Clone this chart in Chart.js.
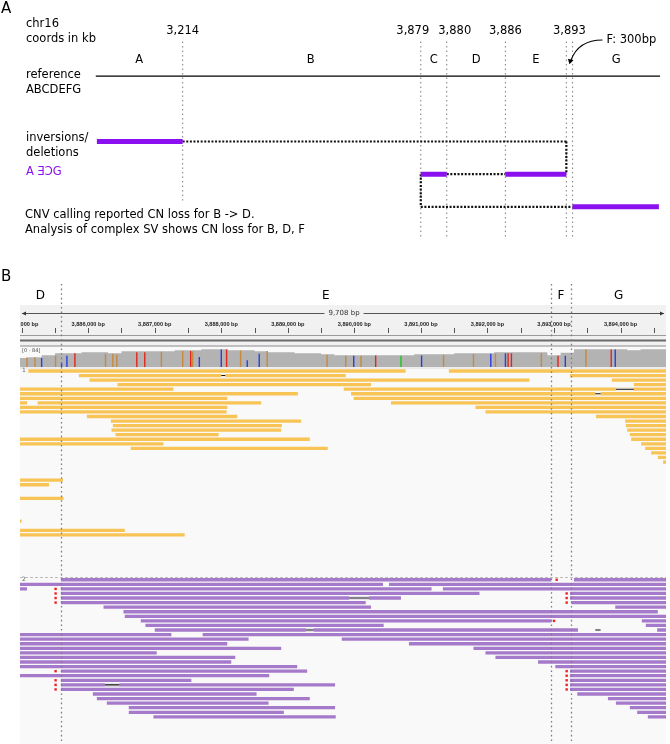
<!DOCTYPE html>
<html><head><meta charset="utf-8">
<script src="https://cdn.jsdelivr.net/npm/chart.js@4.4.1/dist/chart.umd.min.js"></script>
<style>html,body{margin:0;padding:0;background:#fff;}#wrap{position:relative;width:670px;height:744px;}</style>
</head><body><div id="wrap"><canvas id="c" width="670" height="744"></canvas></div>
<script>
// ===================== PANEL A DATA (schematic, not to scale) =====================
const segmentNames = ['A','B','C','D','E','F','G'];
const breakpointLabels = ['3,214','3,879','3,880','3,886','3,893'];
// schematic positions of breakpoints along the reference (0..100)
const breakpointPos = [15.4, 57.6, 62.2, 72.6, 83.4, 84.5];
const referenceSpan = [0, 100];
const referenceLevel = 1;
// derived (inversions/deletions) haplotype: [level, from, to]
const derivedSegments = [[3, 0.2, 15.4], [4, 57.6, 62.2], [4, 72.6, 83.4], [5, 84.5, 99.8]];
const derivedJoinsH = [[3, 15.4, 83.4], [4, 62.2, 72.6], [5, 57.6, 84.5]];
const derivedJoinsV = [[83.4, 3, 4], [57.6, 4, 5]];

// ===================== PANEL B DATA (IGV view, positions in kb) =====================
const viewStartKb = 3884.975, viewEndKb = 3894.683;
const rulerLabelKb = [3885, 3886, 3887, 3888, 3889, 3890, 3891, 3892, 3893, 3894];
const rulerTickKb = [3885, 3885.5, 3886, 3886.5, 3887, 3887.5, 3888, 3888.5, 3889, 3889.5, 3890, 3890.5,
                     3891, 3891.5, 3892, 3892.5, 3893, 3893.5, 3894, 3894.5];
const segBoundariesKb = [3885.59, 3892.95, 3893.26];
const segLabelsB = ['D', 'E', 'F', 'G'];
const coverageMax = 84;
const covStartKb = 3884.9, covBinKb = 0.2;
const coverage = [40,44,53,62,62,66,66,62,71,71, 71,71,75,75,80,80,75,75,71,66,
                  66,62,62,57,53,53,53,53,53,53, 57,57,57,62,62,62,66,66,66,66,
                  53,64,80,80,80,80,75,80,80];
// coverage mismatches: [kb, base, depth]
const coverageSnps = [
  [3885.08,'G',44],[3885.20,'G',44],[3885.30,'C',40],[3885.51,'G',50],[3885.60,'C',20],[3885.68,'C',50],[3885.80,'T',62],
  [3886.26,'G',60],[3886.37,'G',60],[3886.43,'G',55],[3886.73,'T',66],[3886.85,'T',66],[3887.10,'G',68],
  [3887.42,'G',72],[3887.54,'T',72],[3887.57,'G',70],[3887.67,'C',45],[3888.00,'C',78],[3888.08,'T',78],
  [3888.29,'G',74],[3888.39,'C',30],[3888.57,'C',60],[3888.69,'G',72],[3889.59,'G',55],
  [3889.87,'G',50],[3889.99,'C',50],[3890.10,'G',50],[3890.32,'T',52],[3890.70,'A',50],[3891.01,'C',52],
  [3891.34,'G',55],[3891.79,'G',58],[3892.05,'C',60],[3892.12,'G',60],[3892.27,'C',62],[3892.31,'T',62],[3892.36,'T',62],
  [3892.81,'G',62],[3893.06,'T',50],[3893.17,'C',50],[3893.48,'G',78],[3893.86,'T',78],[3893.92,'C',78]
];
const S = 3884.7, E = 3895.0; // reads running off the left / right edge of the view
// track 1 (yellow): [row, startKb, endKb]
const yellowReads = [
  [0,3885.10,3890.77],[0,3891.42,E],
  [1,3885.86,3889.87],[1,3893.24,E],
  [2,3886.02,3892.63],[2,3893.87,E],
  [3,3886.44,3890.25],[3,3894.20,E],
  [4,S,3887.28],[4,3889.84,E],
  [5,S,3889.15],[5,3889.95,E],
  [6,S,3888.09],[6,3889.99,E],
  [7,S,3885.08],[7,3885.24,3888.60],[7,3890.55,E],
  [8,S,3888.09],[8,3891.82,E],
  [9,S,3888.08],[9,3891.97,E],
  [10,3885.98,3888.24],[10,3893.63,E],
  [11,3886.34,3889.20],[11,3894.07,E],
  [12,3886.37,3888.91],[12,3894.08,E],
  [13,3886.35,3888.90],[13,3894.10,E],
  [14,3886.41,3887.96],[14,3894.14,E],
  [15,S,3889.33],[15,3894.16,E],
  [16,S,3887.13],[16,3894.31,E],
  [17,3886.64,3889.60],[17,3894.37,E],
  [18,3894.46,E],[19,3894.56,E],[20,3894.64,E],
  [24,S,3885.62],[25,S,3885.41],[28,S,3885.63],[33,S,3885.00],[35,S,3886.55],[36,S,3887.45]
];
// track 2 (purple): [row, startKb, endKb]
const purpleReads = [
  [0,3885.59,3892.96],[0,3893.30,E],
  [1,S,3890.43],[1,3890.52,E],
  [2,S,3885.08],[2,3885.59,3891.16],[2,3891.33,E],
  [3,3885.59,3891.88],[3,3893.24,E],
  [4,3885.59,3890.70],[4,3893.24,E],
  [5,3885.59,3890.17],[5,3893.26,E],
  [6,3886.23,3890.25],[6,3893.92,E],
  [7,3886.53,3894.56],
  [8,3886.55,E],
  [9,3886.79,3892.96],[9,3894.32,E],
  [10,3886.86,3890.44],[10,3894.38,E],
  [11,3887.00,3893.36],[11,3894.55,E],
  [12,S,3887.25],[12,3887.72,E],
  [13,S,3888.41],[13,3889.81,E],
  [14,S,3888.09],[14,3890.82,E],
  [15,S,3888.90],[15,3891.79,E],
  [16,S,3887.03],[16,3891.97,E],
  [17,S,3888.21],[17,3892.12,E],
  [18,S,3888.15],[18,3892.76,E],
  [19,S,3889.14],[19,3893.02,E],
  [20,3885.59,3889.29],[20,3893.24,E],
  [21,S,3888.72],[21,3893.24,E],
  [22,3885.59,3887.55],[22,3893.24,E],
  [23,3885.59,3889.71],[23,3893.24,E],
  [24,3885.59,3889.09],[24,3893.24,E],
  [25,3886.07,3888.53],[25,3893.35,E],
  [26,3886.13,3889.33],[26,3893.81,E],
  [27,3886.28,3888.71],[27,3893.93,E],
  [28,3886.61,3889.71],[28,3894.14,E],
  [29,3886.61,3888.94],[29,3894.25,E],
  [30,3886.98,3889.72],[30,3894.41,E]
];
// soft-clip markers on track 2: [row, kb]
const purpleClips = [[2,3885.51],[3,3885.51],[4,3885.51],[5,3885.51],[20,3885.51],[22,3885.51],[23,3885.51],[24,3885.51],
  [0,3893.04],[9,3893.00],[3,3893.19],[4,3893.19],[5,3893.19],[20,3893.19],[21,3893.19],[22,3893.19],[23,3893.19],[24,3893.19]];
// deletions inside reads: [track, row, fromKb, toKb]
const readDeletions = [[1,4,3893.93,3894.20],[1,5,3893.62,3893.70],[2,4,3889.92,3890.22],[2,23,3886.25,3886.47],
  [2,11,3889.27,3889.39],[2,11,3893.62,3893.70],[1,1,3888.0,3888.06]];

// ===================== LAYOUT / STYLE =====================
const CW = 670, CH = 744, PADL = 20, PADR = 2, AW = CW - PADL - PADR;
const FONT = 'DejaVu Sans';
const PURPLE_A = '#8b10ef', YELLOW = '#f7c455', PURPLE = '#a67aca';
const SNP_COLORS = {A:'#21c421', C:'#2b3ee6', G:'#c8893c', T:'#e3261d'};
function hScale(v0, p0, ppu){ const min = v0 - (p0 - PADL)/ppu; return {type:'linear', display:false, min, max:min + AW/ppu}; }
function vDown(v0, p0, ppu){ const min = v0 - p0/ppu; return {type:'linear', display:false, reverse:true, min, max:min + CH/ppu}; }
function vUp(v0, p0, ppu){ const max = v0 + p0/ppu; return {type:'linear', display:false, min:max - CH/ppu, max}; }
const pxPerKb = AW / (viewEndKb - viewStartKb);

const base = {type:'line', pointRadius:0, fill:false, tension:0, borderCapStyle:'butt', spanGaps:false};
const datasets = [];
// Panel A
datasets.push({...base, xAxisID:'xA', yAxisID:'yA', order:5, borderColor:'#000', borderWidth:1.3,
  data:[{x:referenceSpan[0],y:referenceLevel},{x:referenceSpan[1],y:referenceLevel}]});
datasets.push({...base, xAxisID:'xA', yAxisID:'yA', order:4, borderColor:PURPLE_A, borderWidth:5,
  data:derivedSegments.flatMap(([l,a,b])=>[{x:a,y:l},{x:b,y:l},{x:b,y:null}])});
datasets.push({...base, xAxisID:'xA', yAxisID:'yA', order:6, borderColor:'#111', borderWidth:2.2, borderDash:[2,1.6],
  data:derivedJoinsH.flatMap(([l,a,b])=>[{x:a,y:l},{x:b,y:l},{x:b,y:null}]).concat(
       derivedJoinsV.flatMap(([x,a,b])=>[{x,y:a},{x,y:b},{x,y:null}]))});
datasets.push({...base, xAxisID:'xA', yAxisID:'yA', order:9, borderColor:'#8a8a8a', borderWidth:1.1, borderDash:[1.5,3],
  data:breakpointPos.flatMap((p,i)=>[{x:p,y:-0.06},{x:p,y:i===0?4.85:6},{x:p,y:null}])});
// Panel B
const covData = coverage.map((v,i)=>({x:covStartKb + i*covBinKb, y:v}));
covData.push({x:covStartKb + coverage.length*covBinKb, y:coverage[coverage.length-1]});
datasets.push({...base, xAxisID:'xB', yAxisID:'yCov', order:20, data:covData, stepped:true, fill:'origin',
  backgroundColor:'#b3b3b3', borderWidth:0, clip:0});
Object.keys(SNP_COLORS).forEach(b=>{
  datasets.push({...base, xAxisID:'xB', yAxisID:'yCov', order:19, borderColor:SNP_COLORS[b], borderWidth:1.4, clip:0,
    data:coverageSnps.filter(s=>s[1]===b).flatMap(([k,,v])=>[{x:k,y:0},{x:k,y:v},{x:k,y:null}])});
});
const readsDs = (reads, yId, col) => ({...base, xAxisID:'xB', yAxisID:yId, order:18, borderColor:col, borderWidth:3.3, clip:0,
  data:reads.flatMap(([r,s,e])=>[{x:s,y:r},{x:e,y:r},{x:e,y:null}])});
datasets.push(readsDs(yellowReads,'yYel',YELLOW));
datasets.push(readsDs(purpleReads,'yPur',PURPLE));
[[1,'yYel'],[2,'yPur']].forEach(([t,yId])=>{
  const dl = readDeletions.filter(d=>d[0]===t);
  datasets.push({...base, xAxisID:'xB', yAxisID:yId, order:17, borderColor:'#111', borderWidth:1.1, clip:0,
    data:dl.flatMap(([,r,a,b])=>[{x:a,y:r},{x:b,y:r},{x:b,y:null}])});
  datasets.push({...base, xAxisID:'xB', yAxisID:yId, order:17.5, borderColor:'#f4f4f4', borderWidth:3.3, clip:0,
    data:dl.flatMap(([,r,a,b])=>[{x:a,y:r},{x:b,y:r},{x:b,y:null}])});
});
datasets.push({...base, xAxisID:'xB', yAxisID:'yPur', order:16, showLine:false, pointRadius:1.7, pointStyle:'rect',
  pointBackgroundColor:'#ee2222', pointBorderWidth:0, clip:0, data:purpleClips.map(([r,k])=>({x:k,y:r}))});

function fmtBp(kb){ return Math.round(kb*1000).toLocaleString('en-US') + ' bp'; }

const decor = {
  id:'decor',
  beforeDatasetsDraw(chart){
    const ctx = chart.ctx, xB = chart.scales.xB, yC = chart.scales.yCov;
    const L = xB.getPixelForValue(viewStartKb), R = xB.getPixelForValue(viewEndKb);
    ctx.save();
    ctx.fillStyle = '#f9f9f9'; ctx.fillRect(L, 346, R - L, CH - 346);
    ctx.fillStyle = '#f1f1f1'; ctx.fillRect(L, 305, R - L, 41);
    // ruler
    ctx.strokeStyle = '#555'; ctx.fillStyle = '#333'; ctx.lineWidth = 1;
    const spanTxt = fmtBp(viewEndKb - viewStartKb);
    ctx.font = '7px ' + FONT;
    const tw = ctx.measureText(spanTxt).width, mid = (L + R)/2 + 1;
    ctx.beginPath(); ctx.moveTo(L + 2, 313.5); ctx.lineTo(mid - tw/2 - 4, 313.5);
    ctx.moveTo(mid + tw/2 + 4, 313.5); ctx.lineTo(R - 2, 313.5); ctx.stroke();
    ctx.beginPath(); ctx.moveTo(L + 2, 313.5); ctx.lineTo(L + 6, 311.5); ctx.lineTo(L + 6, 315.5); ctx.closePath(); ctx.fill();
    ctx.beginPath(); ctx.moveTo(R - 2, 313.5); ctx.lineTo(R - 6, 311.5); ctx.lineTo(R - 6, 315.5); ctx.closePath(); ctx.fill();
    ctx.textAlign = 'center'; ctx.textBaseline = 'middle';
    ctx.fillText(spanTxt, mid, 313.5);
    ctx.save(); ctx.beginPath(); ctx.rect(L, 300, R - L, 50); ctx.clip();
    ctx.font = 'bold 5.6px "Liberation Sans"'; ctx.fillStyle = '#222';
    rulerLabelKb.forEach(k => ctx.fillText(fmtBp(k), xB.getPixelForValue(k), 324));
    ctx.restore();
    ctx.beginPath();
    rulerTickKb.forEach(k => { const x = Math.round(xB.getPixelForValue(k)) + 0.5; ctx.moveTo(x, 328); ctx.lineTo(x, 333); });
    ctx.stroke();
    ctx.strokeStyle = '#9a9a9a'; ctx.beginPath(); ctx.moveTo(L, 335.5); ctx.lineTo(R, 335.5); ctx.stroke();
    ctx.strokeStyle = '#6a6a6a'; ctx.lineWidth = 1.8; ctx.beginPath(); ctx.moveTo(L, 340.5); ctx.lineTo(R, 340.5); ctx.stroke();
    ctx.strokeStyle = '#8a8a8a'; ctx.lineWidth = 1; ctx.beginPath(); ctx.moveTo(L, 346); ctx.lineTo(R, 346); ctx.stroke();
    // coverage baseline band
    ctx.fillStyle = '#ececec'; ctx.fillRect(L, yC.getPixelForValue(0), R - L, 2);
    // track separator
    ctx.strokeStyle = '#bdbdbd'; ctx.setLineDash([3,2]); ctx.beginPath(); ctx.moveTo(L, 577.5); ctx.lineTo(R, 577.5); ctx.stroke();
    ctx.setLineDash([]);
    ctx.font = '5px ' + FONT; ctx.fillStyle = '#444'; ctx.textAlign = 'left';
    ctx.fillText('[0 - ' + coverageMax + ']', L + 2, yC.getPixelForValue(coverageMax) + 2);
    ctx.font = '6px ' + FONT; ctx.fillStyle = '#666';
    ctx.fillText('1', L + 2, chart.scales.yYel.getPixelForValue(0) - 0.5);
    ctx.fillText('2', L + 2, chart.scales.yPur.getPixelForValue(0) - 0.5);
    ctx.restore();
  },
  afterDatasetsDraw(chart){
    const ctx = chart.ctx, xA = chart.scales.xA, yA = chart.scales.yA, xB = chart.scales.xB;
    ctx.save();
    // panel B guides
    ctx.strokeStyle = '#7d7d7d'; ctx.lineWidth = 1.3; ctx.setLineDash([1.6,3]);
    segBoundariesKb.forEach(k => { const x = Math.round(xB.getPixelForValue(k)) + 0.5;
      ctx.beginPath(); ctx.moveTo(x, 284); ctx.lineTo(x, CH); ctx.stroke(); });
    ctx.setLineDash([]);
    ctx.fillStyle = '#000'; ctx.textBaseline = 'middle';
    // panel letters
    ctx.textAlign = 'left'; ctx.font = '15px ' + FONT;
    ctx.fillText('A', 1, 9); ctx.fillText('B', 1, 277);
    // panel B segment labels
    ctx.font = '12px ' + FONT; ctx.textAlign = 'center';
    const bEdges = [viewStartKb, ...segBoundariesKb, viewEndKb];
    const bShift = {E: 20};
    segLabelsB.forEach((s,i) => ctx.fillText(s, (xB.getPixelForValue(bEdges[i]) + xB.getPixelForValue(bEdges[i+1]))/2 + (bShift[s]||0), 296));
    // panel A
    ctx.font = '11.5px ' + FONT; ctx.textAlign = 'left';
    ctx.fillText('chr16', 26, 24); ctx.fillText('coords in kb', 26, 39);
    ctx.fillText('reference', 26, 75); ctx.fillText('ABCDEFG', 26, 90);
    ctx.fillText('inversions/', 26, 138); ctx.fillText('deletions', 26, 153);
    ctx.fillText('CNV calling reported CN loss for B -> D.', 25, 215);
    ctx.fillText('Analysis of complex SV shows CN loss for B, D, F', 25, 230);
    ctx.fillStyle = PURPLE_A; ctx.fillText('A \u018E\u0186G', 26, 172);
    ctx.fillStyle = '#000'; ctx.textAlign = 'center';
    const px = breakpointPos.map(p => xA.getPixelForValue(p));
    const labelX = [px[0], px[1] - 8, px[2] + 8, px[3], (px[4] + px[5])/2];
    breakpointLabels.forEach((t,i) => ctx.fillText(t, labelX[i], 31));
    const edges = [referenceSpan[0], ...breakpointPos, referenceSpan[1]];
    const aShift = {B: 9};
    segmentNames.forEach((s,i) => { if (s === 'F') return;
      ctx.fillText(s, (xA.getPixelForValue(edges[i]) + xA.getPixelForValue(edges[i+1]))/2 + (aShift[s]||0), 60); });
    // F annotation with curved arrow
    const fx = (px[4] + px[5])/2, fy = yA.getPixelForValue(referenceLevel) - 13;
    ctx.textAlign = 'left'; ctx.fillText('F: 300bp', fx + 37, 40);
    ctx.strokeStyle = '#000'; ctx.lineWidth = 1.2;
    ctx.beginPath(); ctx.moveTo(fx + 33, 40); ctx.quadraticCurveTo(fx + 9, 40, fx + 1.5, fy - 3); ctx.stroke();
    ctx.beginPath(); ctx.moveTo(fx, fy + 1); ctx.lineTo(fx - 1.5, fy - 4.5); ctx.lineTo(fx + 4, fy - 3); ctx.closePath(); ctx.fill();
    ctx.restore();
  }
};

new Chart(document.getElementById('c'), {
  type:'line',
  data:{datasets},
  options:{
    responsive:false, animation:false, events:[], devicePixelRatio:1,
    layout:{padding:{left:PADL, right:PADR, top:0, bottom:0}},
    plugins:{legend:{display:false}, tooltip:{enabled:false}, title:{display:false}},
    scales:{
      xA: hScale(0, 96, 5.66),
      xB: hScale(viewStartKb, PADL, pxPerKb),
      yA: vDown(0, 40, 33),
      yCov: vUp(0, 367, 19/84),
      yYel: vDown(0, 371, 4.6),
      yPur: vDown(0, 582, 4.62)
    }
  },
  plugins:[decor]
});
</script></body></html>
